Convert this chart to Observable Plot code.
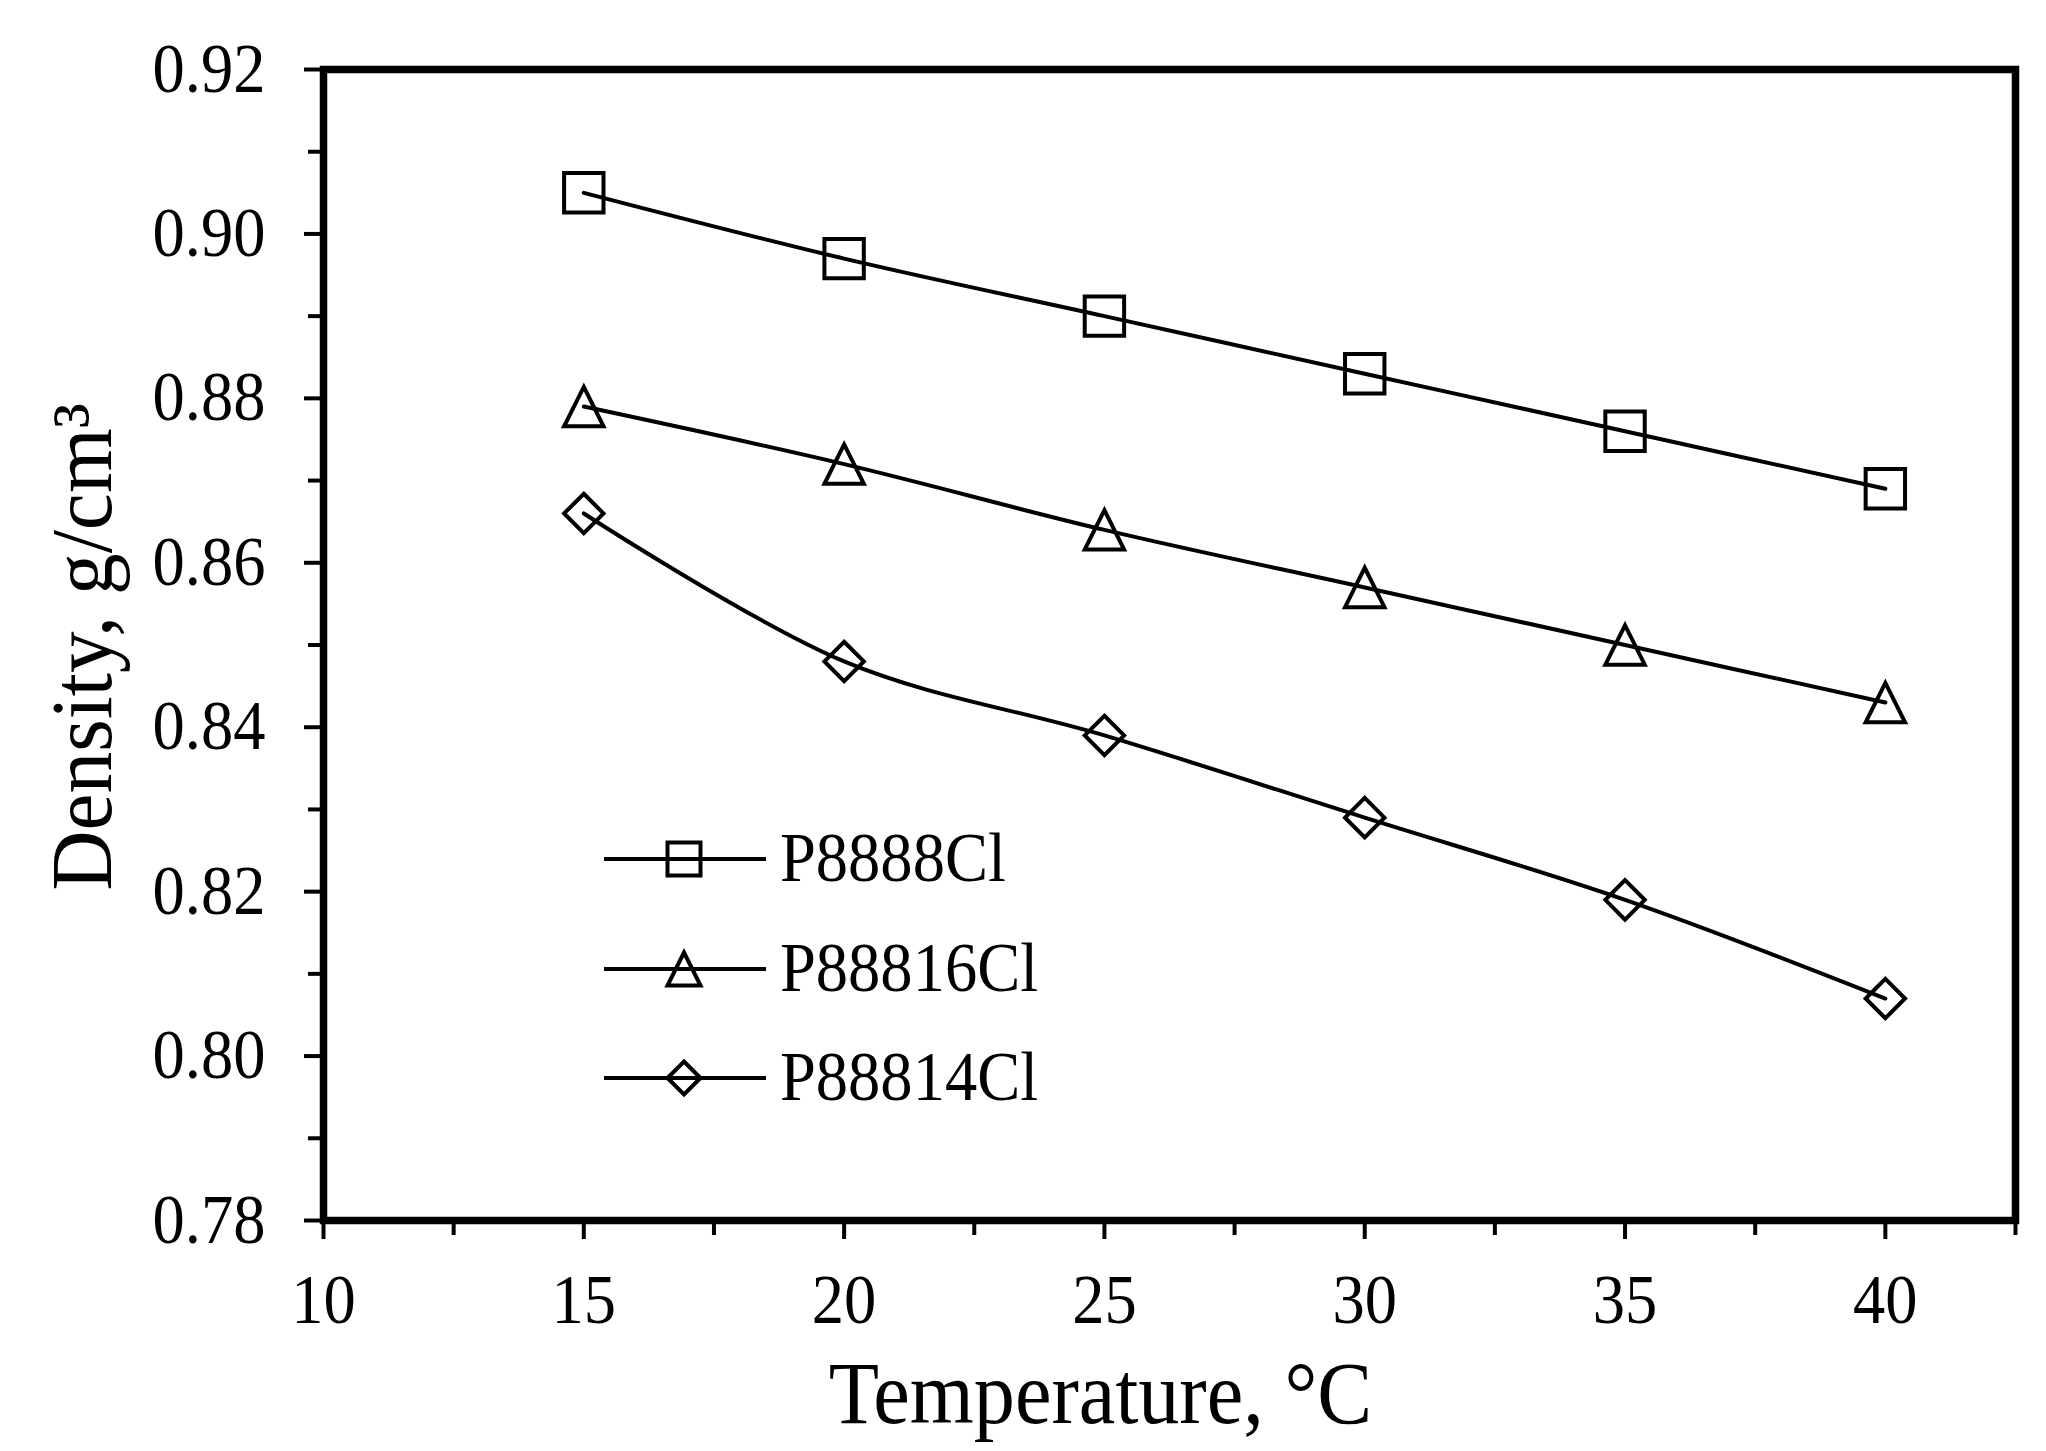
<!DOCTYPE html>
<html>
<head>
<meta charset="utf-8">
<script src="https://cdn.jsdelivr.net/npm/d3@7"></script>
<script src="https://cdn.jsdelivr.net/npm/@observablehq/plot@0.6"></script>
<style>
  html, body { margin: 0; padding: 0; background: #fff; }
  #chart svg { display: block; }
</style>
</head>
<body>
<div id="chart"></div>
<script>
// ---- data ----
const temperatures = [15, 20, 25, 30, 35, 40];
const seriesNames = ["P8888Cl", "P88816Cl", "P88814Cl"];
const densityP8888Cl  = [0.905, 0.897, 0.890, 0.883, 0.876, 0.869];
const densityP88816Cl = [0.879, 0.872, 0.864, 0.857, 0.850, 0.843];
const densityP88814Cl = [0.866, 0.848, 0.839, 0.829, 0.819, 0.807];
const xMajorTicks = [10, 15, 20, 25, 30, 35, 40];
const xMinorTicks = [12.5, 17.5, 22.5, 27.5, 32.5, 37.5, 42.5];
const yMajorTicks = [0.78, 0.80, 0.82, 0.84, 0.86, 0.88, 0.90, 0.92];
const yMinorTicks = [0.79, 0.81, 0.83, 0.85, 0.87, 0.89, 0.91];
const xLabel = "Temperature, °C";
const yLabel = "Density, g/cm³";

// ---- symbols (open markers) ----
const sqSym = {draw(ctx, size) { const h = Math.sqrt(size / Math.PI); ctx.rect(-h, -h, 2 * h, 2 * h); }};
const triSym = {draw(ctx, size) { const h = Math.sqrt(size / Math.PI); ctx.moveTo(0, -h); ctx.lineTo(h, h); ctx.lineTo(-h, h); ctx.closePath(); }};
const diaSym = {draw(ctx, size) { const h = Math.sqrt(size / Math.PI); ctx.moveTo(0, -h); ctx.lineTo(h, 0); ctx.lineTo(0, h); ctx.lineTo(-h, 0); ctx.closePath(); }};
const symbols = [sqSym, triSym, diaSym];
const seriesValues = [densityP8888Cl, densityP88816Cl, densityP88814Cl];

const rows = [];
seriesNames.forEach((name, i) => {
  temperatures.forEach((t, j) => rows.push({series: name, t, d: seriesValues[i][j]}));
});

const W = 2046, H = 1451;
const mL = 323, mT = 69, mR = 31, mB = 231;
const FONT = "Liberation Serif, Times New Roman, serif";

const marks = [
  Plot.frame({stroke: "black", strokeWidth: 7.5}),
  Plot.axisX(xMajorTicks, {tickSize: 19, tickPadding: 34, strokeWidth: 4, label: null, fontSize: 69}),
  Plot.axisX(xMinorTicks, {tickSize: 15, strokeWidth: 4, text: null, label: null}),
  Plot.axisY(yMajorTicks, {tickSize: 19, tickPadding: 39, strokeWidth: 4, label: null, fontSize: 69, tickFormat: d3.format(".2f")}),
  Plot.axisY(yMinorTicks, {tickSize: 15, strokeWidth: 4, text: null, label: null}),
];
seriesNames.forEach((name, i) => {
  const data = rows.filter(r => r.series === name);
  marks.push(Plot.line(data, {x: "t", y: "d", stroke: "black", strokeWidth: 4, curve: "catmull-rom"}));
  marks.push(Plot.dot(data, {x: "t", y: "d", symbol: symbols[i], r: 19.7, stroke: "black", strokeWidth: 4, fill: "none"}));
});
marks.push(Plot.text([xLabel], {text: d => d, frameAnchor: "bottom", lineAnchor: "bottom", dx: -69, dy: 202, fontSize: 88, textAnchor: "middle", className: "xlab"}));
marks.push(Plot.text([yLabel], {text: d => d, frameAnchor: "left", lineAnchor: "bottom", rotate: -90, dx: -213, dy: 2, fontSize: 86, textAnchor: "middle", className: "ylab"}));

const chart = Plot.plot({
  width: W, height: H,
  marginLeft: mL, marginTop: mT, marginRight: mR, marginBottom: mB,
  x: {domain: [10, 42.5], axis: null},
  y: {domain: [0.78, 0.92], axis: null},
  style: {fontFamily: FONT, fontSize: "69px", color: "black", background: "white"},
  marks
});
document.getElementById("chart").appendChild(chart);

// ---- legend (inside plot area) ----
const svg = d3.select(chart.tagName.toLowerCase() === "svg" ? chart : chart.querySelector("svg"));
const legendRowsY = [859, 969, 1078];
const lg = svg.append("g").attr("font-family", FONT).attr("font-size", 69).attr("text-anchor", "start");
seriesNames.forEach((name, i) => {
  const y = legendRowsY[i];
  lg.append("line").attr("x1", 604).attr("x2", 766).attr("y1", y).attr("y2", y)
    .attr("stroke", "black").attr("stroke-width", 4);
  lg.append("path").attr("d", d3.symbol(symbols[i], Math.PI * 16.5 * 16.5)())
    .attr("transform", `translate(684,${y})`)
    .attr("fill", "none").attr("stroke", "black").attr("stroke-width", 4);
  lg.append("text").attr("transform", `translate(780,${y})`).attr("y", "0.32em")
    .attr("text-anchor", "start").attr("fill", "black").text(name);
});

// ---- slightly condensed text like the reference ----
svg.selectAll("text").each(function () {
  const t = this.getAttribute("transform") || "";
  const inY = this.closest("g.ylab") || (this.parentNode && this.parentNode.getAttribute && (this.parentNode.getAttribute("class") || "").includes("ylab"));
  const k = inY ? 0.97 : 0.935;
  const x = this.getAttribute("x");
  if (x && !isNaN(+x)) {
    this.setAttribute("transform", `${t} translate(${+x},0) scale(${k},1) translate(${-x},0)`);
  } else {
    this.setAttribute("transform", `${t} scale(${k},1)`);
  }
});
</script>
</body>
</html>
